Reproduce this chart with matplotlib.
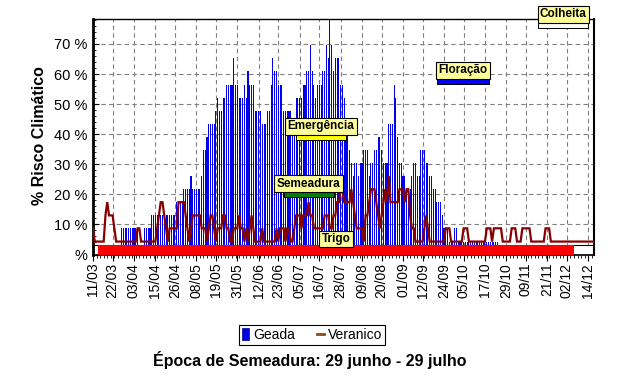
import numpy as np
import matplotlib
matplotlib.use("Agg")
import matplotlib.pyplot as plt
from matplotlib.lines import Line2D
from matplotlib.patches import Patch, Rectangle
from matplotlib.ticker import FixedLocator, MultipleLocator
from datetime import datetime

# ---------------- data ----------------
inicio = "11/03"
tick_labels = ["11/03", "22/03", "03/04", "15/04", "26/04", "08/05", "19/05", "31/05",
               "12/06", "23/06", "05/07", "16/07", "28/07", "09/08", "20/08", "01/09",
               "12/09", "24/09", "05/10", "17/10", "29/10", "09/11", "21/11", "02/12", "14/12"]
y_ticks = [0, 10, 20, 30, 40, 50, 60, 70]
y_tick_labels = ["%", "10 %", "20 %", "30 %", "40 %", "50 %", "60 %", "70 %"]

# daily values (% of years), first value = 11/03
geada = [
    0, 0, 0, 0, 0, 0, 0, 0, 0, 0,
    0, 0, 0, 0, 0, 0, 8.7, 8.7, 8.7, 8.7,
    8.7, 8.7, 8.7, 8.7, 8.7, 8.7, 0, 0, 0, 8.7,
    8.7, 8.7, 8.7, 13.0, 13.0, 13.0, 13.0, 13.0, 13.0, 13.0,
    13.0, 13.0, 13.0, 13.0, 13.0, 13.0, 13.0, 17.4, 17.4, 17.4,
    17.4, 21.7, 21.7, 21.7, 21.7, 26.1, 21.7, 21.7, 21.7, 21.7,
    21.7, 26.1, 34.8, 34.8, 39.1, 43.5, 43.5, 43.5, 43.5, 47.8,
    52.2, 47.8, 47.8, 52.2, 52.2, 56.5, 56.5, 56.5, 56.5, 65.2,
    56.5, 56.5, 52.2, 52.2, 52.2, 56.5, 52.2, 60.9, 56.5, 56.5,
    56.5, 47.8, 47.8, 47.8, 47.8, 43.5, 43.5, 43.5, 47.8, 47.8,
    56.5, 65.2, 60.9, 60.9, 56.5, 56.5, 56.5, 47.8, 47.8, 47.8,
    47.8, 47.8, 43.5, 43.5, 52.2, 52.2, 52.2, 52.2, 56.5, 56.5,
    60.9, 60.9, 69.6, 60.9, 56.5, 52.2, 56.5, 56.5, 56.5, 60.9,
    60.9, 69.6, 65.2, 78.3, 69.6, 60.9, 65.2, 65.2, 65.2, 56.5,
    56.5, 52.2, 43.5, 43.5, 34.8, 30.4, 26.1, 30.4, 30.4, 26.1,
    30.4, 30.4, 34.8, 34.8, 34.8, 26.1, 30.4, 30.4, 34.8, 34.8,
    39.1, 39.1, 34.8, 30.4, 30.4, 30.4, 43.5, 43.5, 43.5, 56.5,
    52.2, 39.1, 30.4, 30.4, 26.1, 26.1, 21.7, 17.4, 21.7, 26.1,
    30.4, 30.4, 26.1, 26.1, 34.8, 34.8, 34.8, 30.4, 30.4, 26.1,
    26.1, 21.7, 21.7, 17.4, 17.4, 17.4, 13.0, 8.7, 8.7, 8.7,
    4.3, 4.3, 4.3, 8.7, 8.7, 4.3, 4.3, 4.3, 4.3, 4.3,
    4.3, 4.3, 4.3, 4.3, 4.3, 4.3, 4.3, 4.3, 4.3, 4.3,
    4.3, 4.3, 4.3, 4.3, 4.3, 4.3, 4.3, 4.3,
]

veranico = [
    8.7, 4.3, 4.3, 4.3, 4.3, 4.3, 4.3, 13.0, 17.4, 13.0,
    13.0, 13.0, 8.7, 4.3, 4.3, 4.3, 4.3, 4.3, 4.3, 4.3,
    4.3, 4.3, 4.3, 4.3, 4.3, 8.7, 8.7, 4.3, 4.3, 4.3,
    4.3, 4.3, 4.3, 4.3, 4.3, 4.3, 8.7, 13.0, 17.4, 17.4,
    13.0, 8.7, 4.3, 8.7, 8.7, 8.7, 8.7, 8.7, 17.4, 17.4,
    17.4, 17.4, 13.0, 8.7, 4.3, 8.7, 13.0, 13.0, 13.0, 13.0,
    13.0, 8.7, 8.7, 8.7, 4.3, 8.7, 13.0, 13.0, 8.7, 4.3,
    8.7, 8.7, 8.7, 13.0, 13.0, 8.7, 8.7, 4.3, 4.3, 8.7,
    8.7, 8.7, 13.0, 8.7, 8.7, 4.3, 8.7, 4.3, 8.7, 13.0,
    8.7, 4.3, 4.3, 4.3, 4.3, 8.7, 4.3, 4.3, 4.3, 4.3,
    4.3, 4.3, 4.3, 8.7, 4.3, 8.7, 8.7, 8.7, 4.3, 8.7,
    8.7, 4.3, 4.3, 8.7, 13.0, 13.0, 13.0, 8.7, 13.0, 13.0,
    13.0, 17.4, 13.0, 13.0, 8.7, 8.7, 8.7, 8.7, 8.7, 8.7,
    13.0, 13.0, 13.0, 8.7, 8.7, 13.0, 13.0, 17.4, 17.4, 21.7,
    21.7, 17.4, 17.4, 17.4, 17.4, 21.7, 17.4, 13.0, 8.7, 8.7,
    8.7, 8.7, 4.3, 13.0, 13.0, 17.4, 21.7, 21.7, 21.7, 17.4,
    13.0, 8.7, 13.0, 17.4, 21.7, 17.4, 26.1, 17.4, 17.4, 17.4,
    17.4, 17.4, 21.7, 21.7, 21.7, 17.4, 21.7, 21.7, 13.0, 8.7,
    8.7, 4.3, 4.3, 4.3, 4.3, 4.3, 8.7, 13.0, 8.7, 4.3,
    4.3, 4.3, 4.3, 4.3, 4.3, 4.3, 4.3, 4.3, 8.7, 8.7,
    8.7, 4.3, 4.3, 4.3, 4.3, 4.3, 4.3, 4.3, 8.7, 8.7,
    8.7, 4.3, 4.3, 4.3, 4.3, 4.3, 4.3, 4.3, 4.3, 4.3,
    4.3, 8.7, 8.7, 8.7, 4.3, 8.7, 8.7, 8.7, 8.7, 8.7,
    4.3, 4.3, 4.3, 4.3, 4.3, 8.7, 8.7, 8.7, 4.3, 4.3,
    4.3, 8.7, 8.7, 8.7, 8.7, 8.7, 4.3, 4.3, 4.3, 4.3,
    4.3, 4.3, 4.3, 4.3, 8.7, 8.7, 8.7, 4.3, 4.3, 4.3,
    4.3, 4.3, 4.3, 4.3, 4.3, 4.3, 4.3, 4.3, 4.3, 4.3,
    4.3, 4.3, 4.3, 4.3, 4.3, 4.3, 4.3, 4.3, 4.3, 4.3,
    4.3, 4.3, 4.3,
]

fases = ["Trigo", "Semeadura", "Emergência", "Floração", "Colheita"]
fase_inicio = ["14/03", "26/06", "03/07", "20/09", "16/11"]
fase_fim = ["06/12", "24/07", "31/07", "19/10", "14/12"]

legend_labels = ["Geada", "Veranico"]
y_label = "% Risco Climático"
titulo = "Época de Semeadura: 29 junho - 29 julho"

# ---------------- styles / layout ----------------
fase_cores = ["#ff0000", "#008000", "#ffff00", "#0000ff", "#ffffff"]
fase_base = [0.0, 19.0, 38.0, 56.7, 75.3]
fase_alt = [3.0, 2.0, 2.0, 2.0, 2.0]
label_base = [2.6, 21.0, 40.0, 58.7, 77.3]


def dia(s):
    ref = datetime.strptime(inicio + "/2001", "%d/%m/%Y")
    return (datetime.strptime(s + "/2001", "%d/%m/%Y") - ref).days


plt.rcParams['font.family'] = ['Liberation Sans', 'DejaVu Sans']

fig = plt.figure(figsize=(6.25, 3.89), dpi=100)
ax = fig.add_axes([93 / 625, 1 - 254.5 / 389, (594 - 93) / 625, (254.5 - 19) / 389])

x_g = np.arange(len(geada))
x_v = np.arange(len(veranico))

ax.bar(x_g, geada, width=0.6, color="#0000ee", linewidth=0, zorder=2, antialiased=False)
ax.plot(x_v, veranico, color="#880000", lw=1.6, zorder=4, solid_joinstyle='miter')

# background outline for the Trigo bar
ax.add_patch(Rectangle((0, 0), 281.2, fase_alt[0], facecolor="white", edgecolor="black",
                       lw=0.8, zorder=2.5, clip_on=True))

for i, nome in enumerate(fases):
    s, e = dia(fase_inicio[i]), dia(fase_fim[i])
    ec = "none" if i == 0 else "black"
    ax.add_patch(Rectangle((s, fase_base[i]), e - s, fase_alt[i], facecolor=fase_cores[i],
                           edgecolor=ec, lw=0.7, zorder=5, clip_on=False))
    ax.text((s + e) / 2, label_base[i] + 0.6, nome, ha="center", va="bottom",
            fontsize=8.5, fontweight="bold", zorder=6, clip_on=False,
            bbox=dict(boxstyle="square,pad=0.2", facecolor="#ffff99", edgecolor="black", lw=0.8))

ax.set_xlim(0, 281.2)
ax.set_ylim(0, 78.3)

ax.set_xticks([dia(t) for t in tick_labels])
ax.set_xticklabels(tick_labels, rotation=90, fontsize=10)
ax.xaxis.set_minor_locator(FixedLocator(np.arange(0, 282, 2)))
ax.set_yticks(y_ticks)
ax.set_yticklabels(y_tick_labels, fontsize=10.5)
ax.yaxis.set_minor_locator(MultipleLocator(2))

ax.tick_params(axis="x", which="major", direction="out", length=4, width=0.8, pad=2)
ax.tick_params(axis="x", which="minor", direction="out", length=2, width=0.6)
ax.tick_params(axis="y", which="major", direction="in", length=4, width=0.8, pad=4)
ax.tick_params(axis="y", which="minor", direction="in", length=2, width=0.6)

ax.grid(True, which="major", color="#808080", linestyle=(0, (4, 3)), linewidth=0.8)
ax.set_axisbelow(True)

ax.spines["left"].set_linewidth(2.0)
ax.spines["bottom"].set_linewidth(1.2)
ax.spines["top"].set_linewidth(1.0)
ax.spines["right"].set_linewidth(1.5)

fig.text(40 / 625, 1 - 136 / 389, y_label, rotation=90, ha="center", va="center",
         fontsize=11.5, fontweight="bold")
fig.text(310 / 625, 1 - 360 / 389, titulo, ha="center", va="center",
         fontsize=11.5, fontweight="bold")

handles = [Patch(facecolor="#0000ee", edgecolor="#000080", lw=0.5),
           Line2D([], [], color="#8b4a1c", lw=2)]
leg = fig.legend(handles, legend_labels, loc="center", bbox_to_anchor=(312 / 625, 1 - 335 / 389),
                 ncol=2, frameon=True, fancybox=False, edgecolor="black", framealpha=1,
                 fontsize=10, handlelength=0.5, handleheight=1.0, handletextpad=0.3,
                 columnspacing=1.6, borderpad=0.2, borderaxespad=0)
leg.get_frame().set_linewidth(0.8)

fig.savefig("out.png", dpi=100)
